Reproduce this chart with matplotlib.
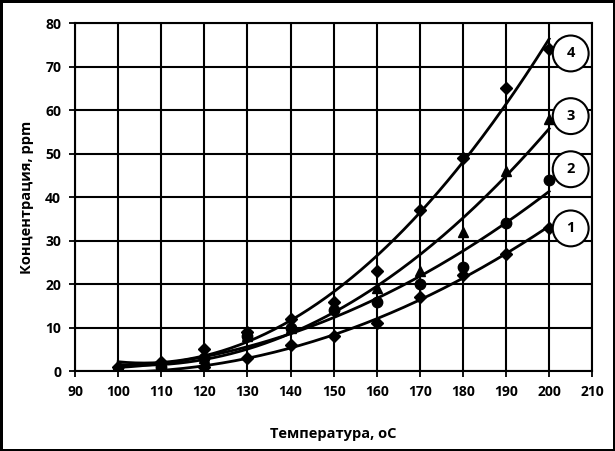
import matplotlib
matplotlib.use("Agg")
import matplotlib.pyplot as plt
import numpy as np

plt.rcParams["font.family"] = ["Open Sans", "DejaVu Sans"]
plt.rcParams["font.weight"] = "bold"

temps = np.array([100, 110, 120, 130, 140, 150, 160, 170, 180, 190, 200])

conc_1 = np.array([0, 0, 1, 3, 6, 8, 11, 17, 22, 27, 33])
conc_2 = np.array([0, 1, 3, 8, 10, 14, 16, 20, 24, 34, 44])
conc_3 = np.array([0, 1, 3, 8, 10, 15, 19, 23, 32, 46, 58])
conc_4 = np.array([1, 2, 5, 9, 12, 16, 23, 37, 49, 65, 74])

series = [
    ("1", conc_1, "D", 6.0),
    ("2", conc_2, "o", 7.5),
    ("3", conc_3, "^", 7.5),
    ("4", conc_4, "D", 6.0),
]
label_y = {"1": 32.8, "2": 46.4, "3": 58.6, "4": 73.0}

fig = plt.figure(figsize=(6.15, 4.51), dpi=100)
fig.patch.set_edgecolor("black")
fig.patch.set_linewidth(2.5)
ax = fig.add_axes([0.122, 0.177, 0.841, 0.772])

t_fit = np.linspace(temps[0], temps[-1], 200)
for name, values, marker, ms in series:
    ax.plot(temps, values, linestyle="none", marker=marker, markersize=ms,
            color="black", zorder=4)
    coef = np.polyfit(temps, values, 2)
    ax.plot(t_fit, np.polyval(coef, t_fit), color="black", linewidth=2.0, zorder=3)
    ax.text(205.0, label_y[name], name, ha="center", va="center", fontsize=10.5,
            fontweight="bold", zorder=5,
            bbox=dict(boxstyle="circle,pad=0.75", facecolor="white",
                      edgecolor="black", linewidth=1.5))

ax.set_xlim(90, 210)
ax.set_ylim(0, 80)
ax.set_xticks(np.arange(90, 211, 10))
ax.set_yticks(np.arange(0, 81, 10))
ax.grid(True, color="black", linewidth=1.5)
ax.set_axisbelow(True)
for spine in ax.spines.values():
    spine.set_linewidth(1.5)
ax.tick_params(direction="out", length=4, width=1.3, labelsize=10, pad=6)
ax.set_xlabel("Температура, oC", fontsize=10.5, fontweight="bold", labelpad=20)
ax.set_ylabel("Концентрация, ppm", fontsize=10.5, fontweight="bold", labelpad=8)

fig.savefig("out.png", dpi=100)
